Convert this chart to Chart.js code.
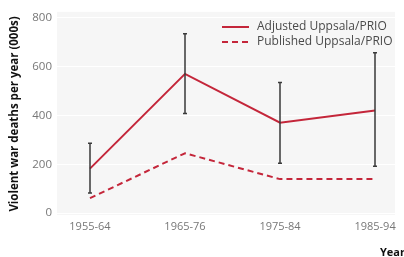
<!DOCTYPE html>
<html>
<head>
<meta charset="utf-8">
<script src="https://cdn.jsdelivr.net/npm/chart.js@4/dist/chart.umd.min.js"></script>
<style>
html,body{margin:0;padding:0;background:#fff;}
#wrap{width:404px;height:257px;position:relative;}
</style>
</head>
<body>
<div id="wrap"><canvas id="c" width="404" height="257"></canvas></div>
<script>
const categories = ["1955-64", "1965-76", "1975-84", "1985-94"];
const adjusted = [182, 570, 370, 420];
const adjustedLow = [82, 408, 204, 192];
const adjustedHigh = [286, 735, 535, 657];
const published = [61, 245, 139, 139];
const yTicks = [0, 200, 400, 600, 800];
const seriesNames = ["Adjusted Uppsala/PRIO", "Published Uppsala/PRIO"];
const yTitle = "Violent war deaths per year (000s)";
const xTitle = "Years";

const RED = "#c4263a";
const FONT = "'Open Sans', sans-serif";

const bgPlugin = {
  id: 'bg',
  beforeDraw(chart) {
    const {ctx, chartArea: a} = chart;
    ctx.save();
    ctx.fillStyle = '#f6f6f6';
    ctx.fillRect(a.left, a.top, a.right - a.left, a.bottom - a.top);
    ctx.restore();
  }
};

const errPlugin = {
  id: 'errbars',
  afterDatasetsDraw(chart) {
    const {ctx, scales: {x, y}} = chart;
    ctx.save();
    ctx.strokeStyle = '#3a3a3a';
    ctx.lineWidth = 1.5;
    adjusted.forEach((v, i) => {
      const px = Math.round(x.getPixelForValue(i));
      const y1 = y.getPixelForValue(adjustedLow[i]);
      const y2 = y.getPixelForValue(adjustedHigh[i]);
      ctx.beginPath();
      ctx.moveTo(px, y1); ctx.lineTo(px, y2);
      ctx.moveTo(px - 2, y1); ctx.lineTo(px + 2, y1);
      ctx.moveTo(px - 2, y2); ctx.lineTo(px + 2, y2);
      ctx.stroke();
    });
    ctx.restore();
  }
};

const textPlugin = {
  id: 'texts',
  afterDraw(chart) {
    const {ctx} = chart;
    ctx.save();
    // legend
    const lx1 = 222, lx2 = 249, tx = 257;
    const rows = [27, 42];
    ctx.lineWidth = 2;
    ctx.strokeStyle = RED;
    ctx.beginPath(); ctx.setLineDash([]);
    ctx.moveTo(lx1, rows[0]); ctx.lineTo(lx2, rows[0]); ctx.stroke();
    ctx.beginPath(); ctx.setLineDash([6, 4]);
    ctx.moveTo(lx1, rows[1]); ctx.lineTo(lx2 + 1, rows[1]); ctx.stroke();
    ctx.setLineDash([]);
    ctx.fillStyle = '#4a4a4a';
    ctx.font = "12px " + FONT;
    ctx.textBaseline = 'middle';
    ctx.textAlign = 'left';
    ctx.fillText(seriesNames[0], tx, rows[0]);
    ctx.fillText(seriesNames[1], tx, rows[1]);
    // axis titles
    ctx.fillStyle = '#111';
    ctx.font = "bold 11.5px " + FONT;
    ctx.save();
    ctx.translate(15, 114);
    ctx.rotate(-Math.PI / 2);
    ctx.textAlign = 'center';
    ctx.fillText(yTitle, 0, 0);
    ctx.restore();
    ctx.font = "bold 11px " + FONT;
    ctx.textAlign = 'left';
    ctx.fillText(xTitle, 380, 253);
    ctx.restore();
  }
};

new Chart(document.getElementById('c'), {
  type: 'line',
  data: {
    datasets: [
      {
        label: seriesNames[0],
        data: adjusted.map((v, i) => ({x: i, y: v})),
        borderColor: RED,
        borderWidth: 2,
        pointRadius: 0,
        tension: 0,
        fill: false
      },
      {
        label: seriesNames[1],
        data: published.map((v, i) => ({x: i, y: v})),
        borderColor: RED,
        borderWidth: 2,
        borderDash: [6, 4],
        pointRadius: 0,
        tension: 0,
        fill: false
      }
    ]
  },
  options: {
    responsive: false,
    animation: false,
    devicePixelRatio: 1,
    layout: {padding: {left: 0, top: 11, right: 9, bottom: 0}},
    plugins: {legend: {display: false}, tooltip: {enabled: false}},
    scales: {
      x: {
        type: 'linear',
        min: -0.347,
        max: 3.21,
        afterBuildTicks(s) { s.ticks = categories.map((c, i) => ({value: i})); },
        afterFit(s) { s.height = 42; },
        grid: {display: false, drawTicks: false},
        border: {display: false},
        ticks: {
          padding: 5,
          color: '#777',
          font: {family: FONT, size: 11},
          maxRotation: 0,
          autoSkip: false,
          callback: (v) => categories[v] ?? ''
        }
      },
      y: {
        min: -8,
        max: 824,
        afterBuildTicks(s) { s.ticks = yTicks.map(v => ({value: v})); },
        afterFit(s) { s.width = 57; },
        grid: {color: '#ffffff', lineWidth: 1, drawTicks: false},
        border: {display: false},
        ticks: {
          padding: 5,
          color: '#777',
          font: {family: FONT, size: 11.5}
        }
      }
    }
  },
  plugins: [bgPlugin, errPlugin, textPlugin]
});
</script>
</body>
</html>
